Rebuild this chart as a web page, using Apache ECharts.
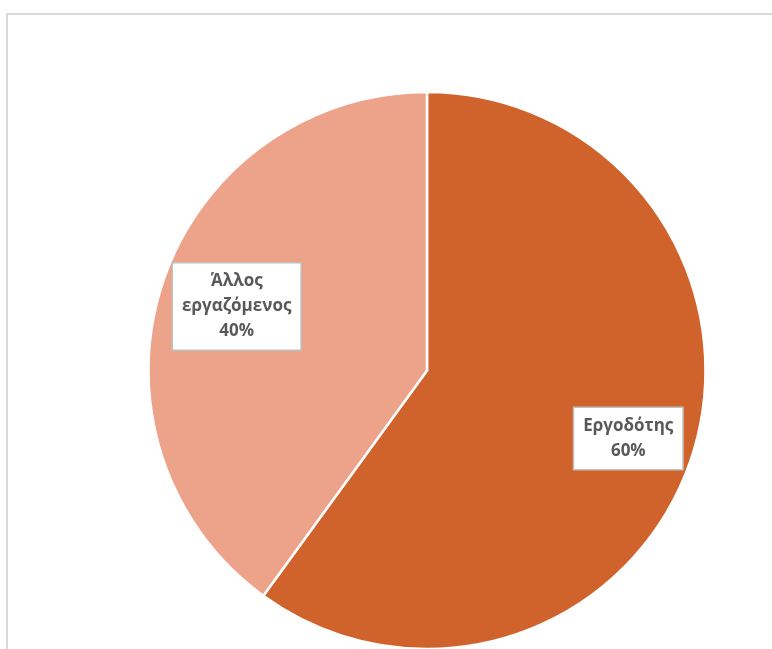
<!DOCTYPE html>
<html><head><meta charset="utf-8">
<script src="https://cdn.jsdelivr.net/npm/echarts@6/dist/echarts.min.js"></script>
<style>html,body{margin:0;padding:0;background:#fff}#c{width:772px;height:649px}</style>
</head><body><div id="c"></div>
<script>
const categories = ['Εργοδότης', 'Άλλος εργαζόμενος'];
const labelNames = ['Εργοδότης', 'Άλλος\nεργαζόμενος'];
const values = [60, 40];
const colors = ['#D0632B', '#EDA28A'];
const labelOffsets = [[66, 24], [-55, -20]];

const chart = echarts.init(document.getElementById('c'), null, {renderer: 'canvas'});
chart.setOption({
  backgroundColor: '#ffffff',
  animation: false,
  graphic: [{
    type: 'rect', shape: {x: 7, y: 14, width: 800, height: 700},
    style: {fill: 'none', stroke: '#d9d9d9', lineWidth: 2}, silent: true
  }],
  series: [{
    type: 'pie',
    center: [427, 370.5],
    radius: 278.5,
    startAngle: 90,
    clockwise: true,
    itemStyle: {borderColor: '#ffffff', borderWidth: 2.5},
    label: {
      show: true,
      position: 'inside',
      formatter: p => labelNames[p.dataIndex] + '\n' + p.value + '%',
      fontFamily: '"Open Sans", Lato, sans-serif',
      fontWeight: 'bold',
      fontSize: 17,
      lineHeight: 25,
      color: '#595959',
      backgroundColor: '#ffffff',
      borderColor: '#bfbfbf',
      borderWidth: 1.5,
      padding: [6, 9, 5, 9],
      align: 'center'
    },
    labelLayout: p => ({dx: labelOffsets[p.dataIndex][0], dy: labelOffsets[p.dataIndex][1]}),
    data: categories.map((c, i) => ({name: c, value: values[i], itemStyle: {color: colors[i]}}))
  }]
});
</script></body></html>
